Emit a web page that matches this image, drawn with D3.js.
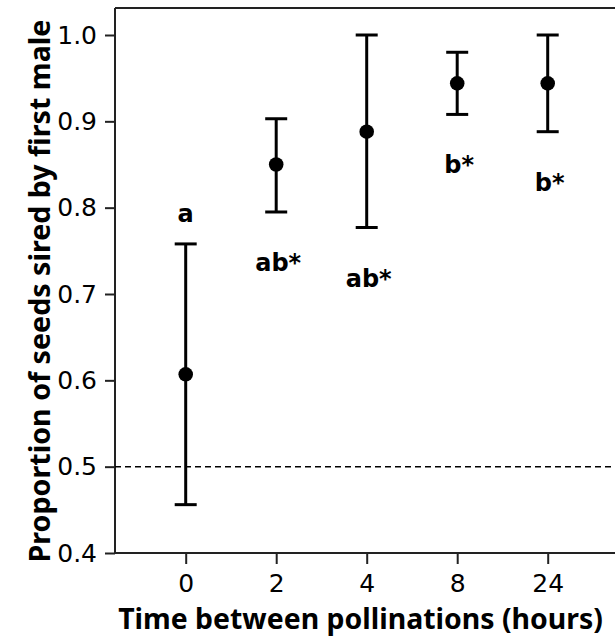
<!DOCTYPE html>
<html>
<head>
<meta charset="utf-8">
<script src="https://cdn.jsdelivr.net/npm/d3@7"></script>
<style>
  html, body { margin: 0; padding: 0; background: #fff; }
  svg { display: block; }
  text { font-family: "DejaVu Sans", Verdana, sans-serif; fill: #000; }
  .title { font-family: "Noto Sans", "DejaVu Sans", sans-serif; font-weight: bold; }
</style>
</head>
<body>
<svg id="chart" width="615" height="639"></svg>
<script>
// Hours between first and second pollination
const times = ["0", "2", "4", "8", "24"];
// Mean proportion of seeds sired by the first male, with interval bounds
const means = [0.607, 0.850, 0.888, 0.944, 0.944];
const lower = [0.456, 0.795, 0.777, 0.908, 0.888];
const upper = [0.758, 0.903, 1.000, 0.980, 1.000];
// Significance groupings
const letters = ["a", "ab*", "ab*", "b*", "b*"];
const yTicks = [0.4, 0.5, 0.6, 0.7, 0.8, 0.9, 1.0];
const nullLevel = 0.5;

(function () {
const svg = d3.select("#chart");
const W = 615;
const plotLeft = 115, plotBottom = 553, plotTop = 8;

const x = d3.scalePoint().domain(times).range([185.7, 547.7]);
const y = d3.scaleLinear().domain([0.4, 1.0]).range([plotBottom, 35]);

// frame: top line
svg.append("line")
  .attr("x1", plotLeft).attr("x2", W).attr("y1", plotTop).attr("y2", plotTop)
  .attr("stroke", "#222").attr("stroke-width", 2);

// y axis
const yAxis = svg.append("g")
  .attr("transform", `translate(${plotLeft},0)`)
  .call(d3.axisLeft(y).tickValues(yTicks).tickFormat(d3.format(".1f")).tickSize(10).tickPadding(8));
yAxis.select(".domain").attr("d", `M0,${plotTop}V${plotBottom}`).attr("stroke", "#222").attr("stroke-width", 2);
yAxis.selectAll(".tick line").attr("stroke", "#222").attr("stroke-width", 2);
yAxis.selectAll(".tick text").style("font-size", "25px").attr("fill", "#111");

// x axis
const xAxis = svg.append("g")
  .attr("transform", `translate(0,${plotBottom})`)
  .call(d3.axisBottom(x).tickSize(11).tickPadding(10));
xAxis.select(".domain").attr("d", `M${plotLeft},0H${W}`).attr("stroke", "#222").attr("stroke-width", 2);
xAxis.selectAll(".tick line").attr("stroke", "#222").attr("stroke-width", 2);
xAxis.selectAll(".tick text").style("font-size", "25px").attr("fill", "#111");

// reference line at equal paternity
svg.append("line")
  .attr("x1", plotLeft).attr("x2", W)
  .attr("y1", y(nullLevel)).attr("y2", y(nullLevel))
  .attr("stroke", "#000").attr("stroke-width", 1.5)
  .attr("stroke-dasharray", "6,4");

// error bars and means
const data = times.map((t, i) => ({ t, m: means[i], lo: lower[i], hi: upper[i], lab: letters[i] }));
const g = svg.append("g");
const capHalf = 11;
data.forEach(d => {
  const cx = x(d.t);
  g.append("line").attr("x1", cx).attr("x2", cx).attr("y1", y(d.lo)).attr("y2", y(d.hi))
    .attr("stroke", "#000").attr("stroke-width", 3);
  [d.lo, d.hi].forEach(v => {
    g.append("line").attr("x1", cx - capHalf).attr("x2", cx + capHalf)
      .attr("y1", y(v)).attr("y2", y(v))
      .attr("stroke", "#000").attr("stroke-width", 3);
  });
  g.append("circle").attr("cx", cx).attr("cy", y(d.m)).attr("r", 7.3).attr("fill", "#000");
});

// group letters: the lowest group sits above its bar, the others below
const minMean = d3.min(means);
data.forEach(d => {
  const above = d.m === minMean;
  g.append("text")
    .attr("x", x(d.t) + (d.lab.length > 1 ? 2 : 0))
    .attr("y", above ? y(d.hi) - 22 : y(d.lo) + 59)
    .attr("text-anchor", "middle")
    .style("font-size", "24px").style("font-weight", "bold")
    .text(d.lab);
});

// axis titles, sized to their span
function fitText(sel, target) {
  const len = sel.node().getComputedTextLength();
  const fs = parseFloat(sel.style("font-size"));
  sel.style("font-size", (fs * target / len) + "px");
}
const xt = svg.append("text")
  .attr("class", "title")
  .attr("x", 360.5).attr("y", 629).attr("text-anchor", "middle")
  .style("font-size", "24px")
  .text("Time between pollinations (hours)");
fitText(xt, 485);

const yt = svg.append("text")
  .attr("class", "title")
  .attr("transform", "translate(50,291) rotate(-90)")
  .attr("text-anchor", "middle")
  .style("font-size", "24px")
  .text("Proportion of seeds sired by first male");
fitText(yt, 543);
})();
</script>
</body>
</html>
